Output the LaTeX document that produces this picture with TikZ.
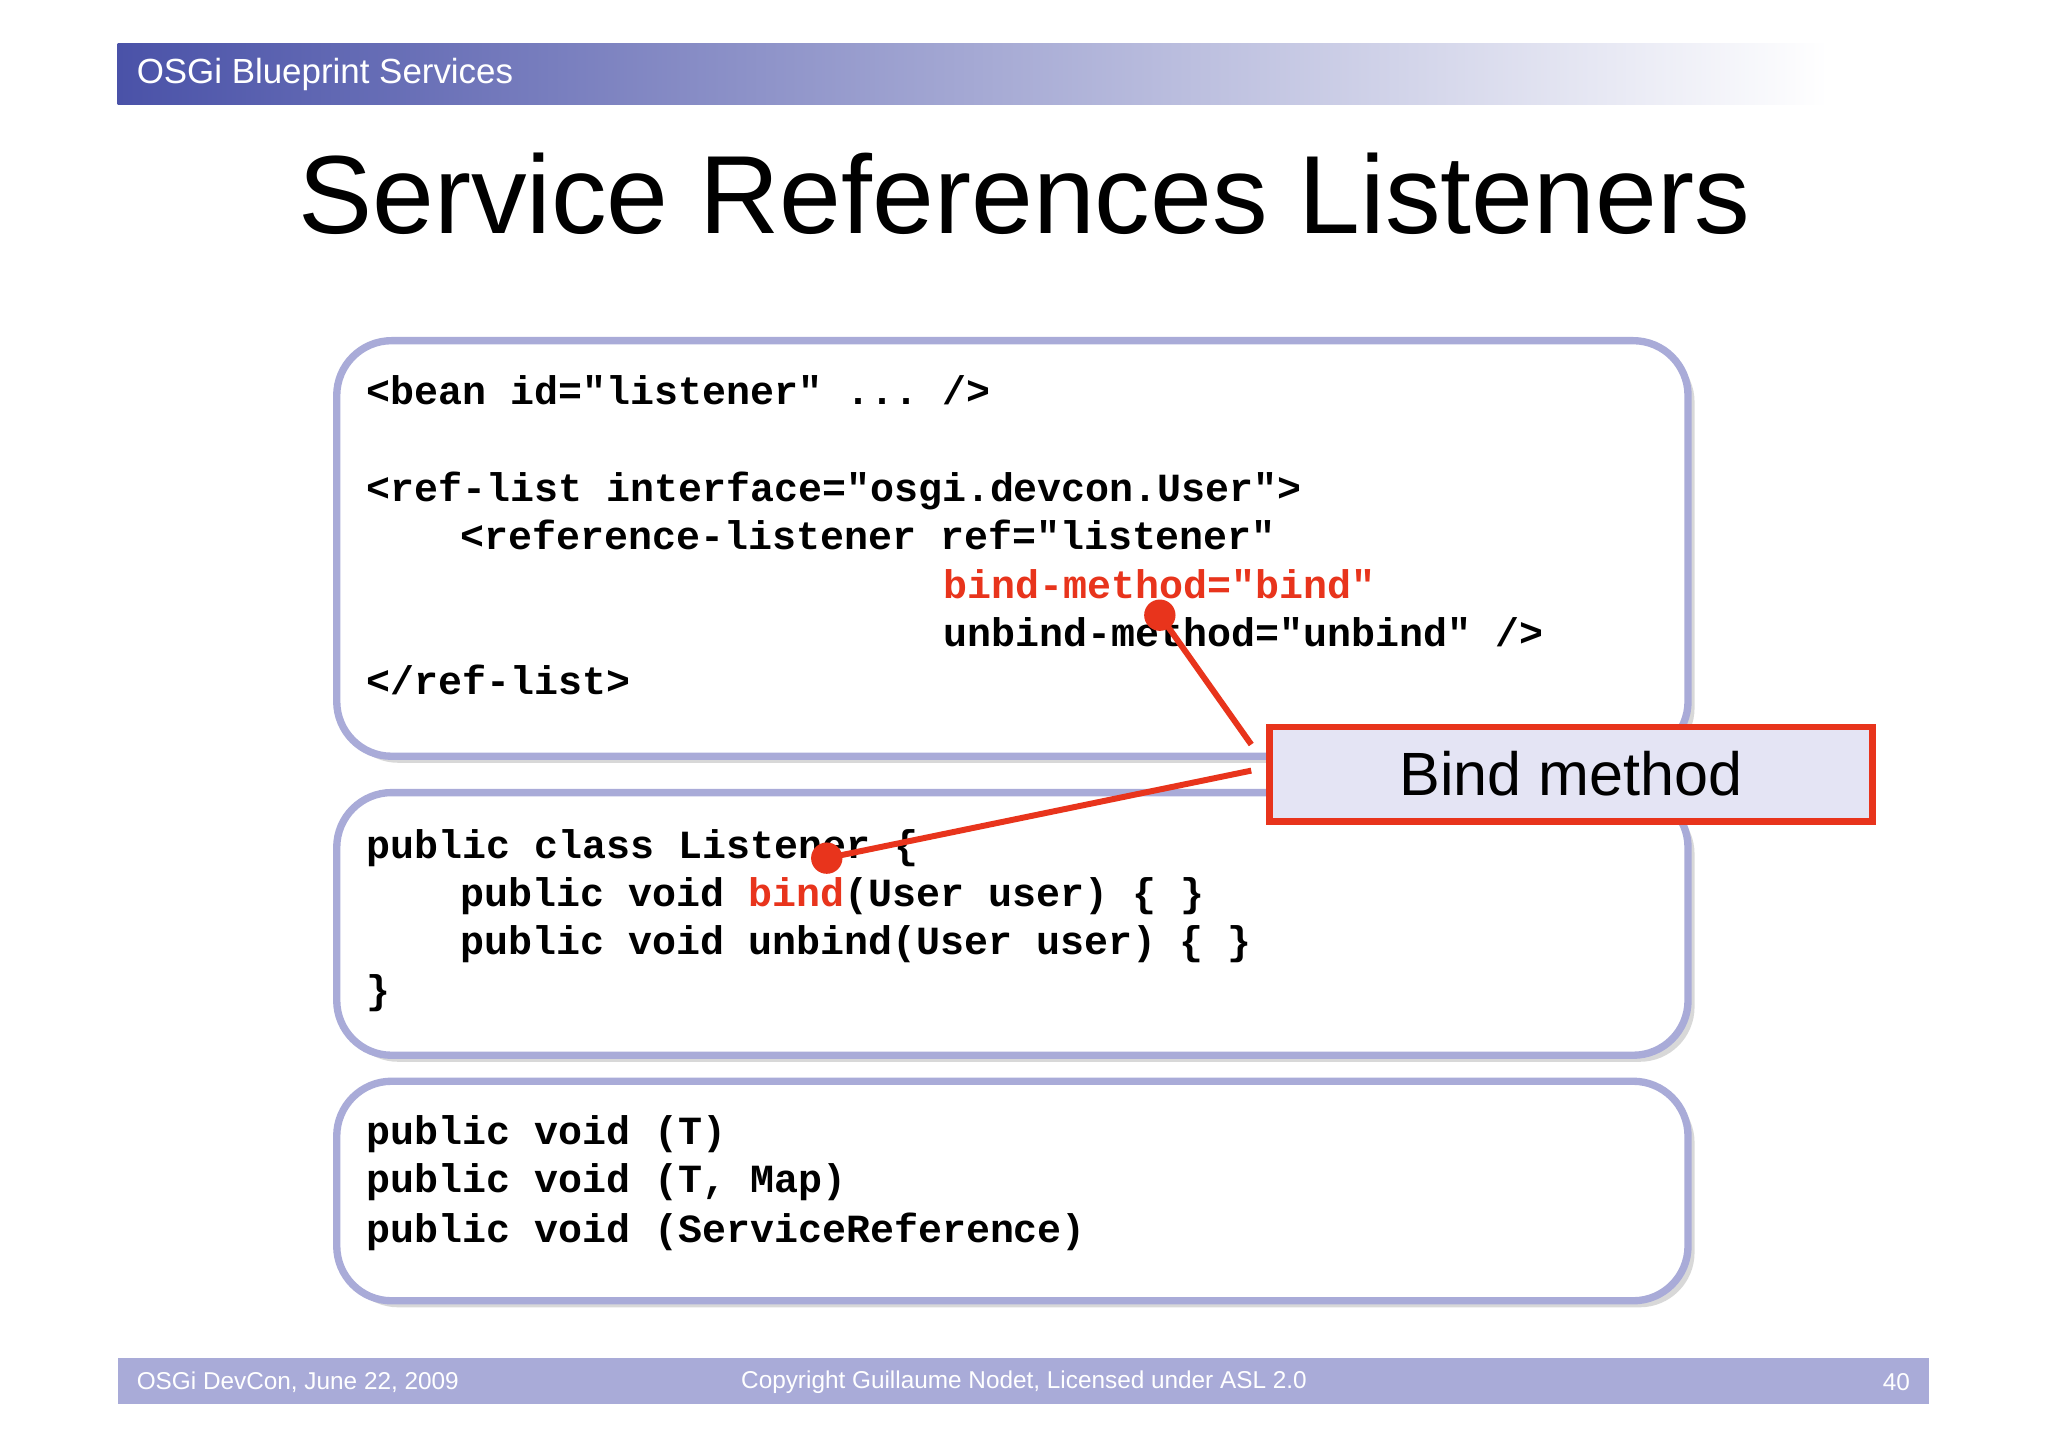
\documentclass[tikz,border=0pt]{standalone}
\usepackage{fontspec}
\setmainfont{Liberation Sans}
\setmonofont{Liberation Mono}
\usetikzlibrary{shadows}
\definecolor{lav}{HTML}{A9ABD8}
\definecolor{hdr}{HTML}{4A52A8}
\definecolor{rd}{HTML}{E8341C}
\definecolor{calfill}{HTML}{E4E4F4}
\tikzset{
  codebox/.style={draw=lav, line width=1.6pt, rounded corners=0.42cm, fill=white, drop shadow={opacity=0.3, shadow xshift=0.05cm, shadow yshift=-0.05cm}, anchor=north west, inner sep=0pt},
  code/.style={anchor=base west, inner sep=0pt, font=\fontsize{8.7pt}{10pt}\ttfamily\bfseries},
  foot/.style={inner sep=0pt, text=white, font=\fontsize{5.3pt}{6pt}\selectfont},
  dot/.style={circle, fill=rd, inner sep=0pt, minimum size=0.24cm}
}
\newcommand{\R}[1]{\textcolor{rd}{#1}}
\begin{document}
\begin{tikzpicture}[x=0.01cm,y=-0.01cm]
\useasboundingbox[fill=white] (0,0) rectangle (1568,1108);
% header
\shade[left color=hdr, right color=white] (90,33) rectangle (1400,80);
\node[anchor=west, inner sep=0pt, text=white, font=\fontsize{7.6pt}{9pt}\selectfont] (hd) at (104,57) {OSGi Blueprint Services};
\node[inner sep=0pt, font=\fontsize{24.2pt}{28pt}\selectfont] (title) at (784,148) {Service References Listeners};
% boxes
\node[codebox, minimum width=10.34cm, minimum height=3.18cm] (b1) at (255,258) {};
\node[codebox, minimum width=10.34cm, minimum height=2.01cm] (b2) at (255,604) {};
\node[codebox, minimum width=10.34cm, minimum height=1.68cm] (b3) at (255,825) {};
% code box 1
\node[code] (l1) at (280,310) {<bean id="listener" ... />};
\node[code] (l2) at (280,384) {<ref-list interface="osgi.devcon.User">};
\node[code] (l3) at (352,421) {<reference-listener ref="listener"};
\node[code] (l4) at (722,458) {\R{bind-method="bind"}};
\node[code] (l5) at (722,495) {unbind-method="unbind" />};
\node[code] (l6) at (280,532) {</ref-list>};
% code box 2
\node[code] (m1) at (280,657) {public class Listener \{};
\node[code] (m2) at (352,694) {public void \R{bind}(User user) \{ \}};
\node[code] (m3) at (352,731) {public void unbind(User user) \{ \}};
\node[code] (m4) at (280,768) {\}};
% code box 3
\node[code] (n1) at (280,876) {public void (T)};
\node[code] (n2) at (280,913) {public void (T, Map)};
\node[code] (n3) at (280,951) {public void (ServiceReference)};
% callout
\node[draw=rd, line width=1.5pt, fill=calfill, minimum width=4.62cm, minimum height=0.72cm, anchor=north west, font=\fontsize{13.3pt}{15pt}\selectfont] (cal) at (969,554) {Bind method};
\coordinate (c1) at (958,570);
\coordinate (c2) at (958,590);
\node[dot] (d1) at (888,471) {};
\node[dot] (d2) at (633,657) {};
\draw[rd, line width=1.3pt] (c1) -- (d1.center);
\draw[rd, line width=1.3pt] (c2) -- (d2.center);
% footer
\fill[lav] (90,1040) rectangle (1477,1075);
\node[foot, anchor=west] (f1) at (104,1058) {OSGi DevCon, June 22, 2009};
\node[foot] (f2) at (784,1058) {Copyright Guillaume Nodet, Licensed under ASL 2.0};
\node[foot, anchor=east] (f3) at (1463,1058) {40};
\end{tikzpicture}
\end{document}
